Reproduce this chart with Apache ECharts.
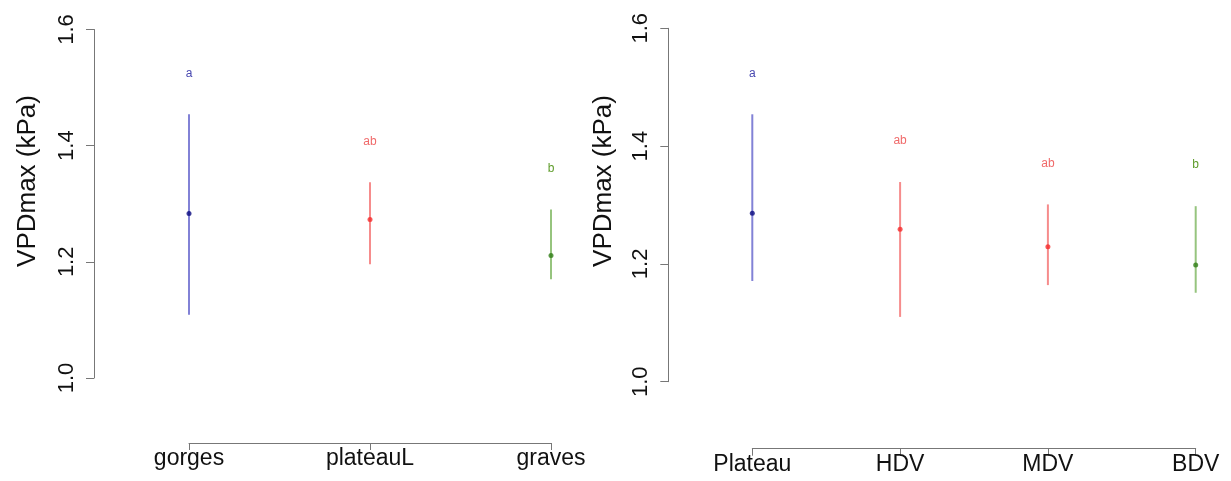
<!DOCTYPE html>
<html>
<head>
<meta charset="utf-8">
<script src="https://cdn.jsdelivr.net/npm/echarts@6/dist/echarts.min.js"></script>
<style>
html,body{margin:0;padding:0;background:#fff;}
#chart{width:1231px;height:481px;}
</style>
</head>
<body>
<div id="chart"></div>
<script>
// ---- data ----
const catsL = ['gorges', 'plateauL', 'graves'];
const meanL = [1.283, 1.273, 1.211];
const loL   = [1.109, 1.196, 1.170];
const hiL   = [1.454, 1.337, 1.290];
const letL  = ['a', 'ab', 'b'];

const catsR = ['Plateau', 'HDV', 'MDV', 'BDV'];
const meanR = [1.286, 1.259, 1.229, 1.198];
const loR   = [1.171, 1.110, 1.164, 1.151];
const hiR   = [1.454, 1.339, 1.301, 1.298];
const letR  = ['a', 'ab', 'ab', 'b'];

const yMin = 1.0, yMax = 1.6, yStep = 0.2;
const yTitle = 'VPDmax (kPa)';

// ---- styles ----
const lineCol = {a: '#8282d6', ab: '#f68c8c', b: '#96c47e'};
const dotCol  = {a: '#0a0a80', ab: '#f52a2a', b: '#2f7d15'};
const letCol  = {a: '#4848b0', ab: '#f06a6a', b: '#5e9c2a'};
const axisCol = '#777777';
const FONT = 'Liberation Sans, Arial, sans-serif';

const chart = echarts.init(document.getElementById('chart'), null, {renderer: 'canvas'});

function makeAxes(gi, cats, yOffset, xOffset) {
  const x = {
    type: 'value', gridIndex: gi, min: 1, max: cats.length, interval: 1,
    offset: xOffset,
    splitLine: {show: false},
    axisLine: {show: true, lineStyle: {color: axisCol, width: 1}},
    axisTick: {show: true, length: 7, lineStyle: {color: axisCol}},
    axisLabel: {show: true, margin: 4, color: '#111', fontFamily: FONT, fontSize: 23,
      formatter: v => cats[Math.round(v) - 1] || ''}
  };
  const y = {
    type: 'value', gridIndex: gi, min: yMin, max: yMax, interval: yStep,
    offset: yOffset,
    splitLine: {show: false},
    axisLine: {show: true, lineStyle: {color: axisCol, width: 1}},
    axisTick: {show: true, length: 8, lineStyle: {color: axisCol}},
    axisLabel: {show: true, rotate: 90, margin: 16, color: '#111', fontFamily: FONT, fontSize: 22,
      formatter: v => v.toFixed(1)}
  };
  return [x, y];
}

function makeSeries(gi, mean, lo, hi, lets) {
  const barData = mean.map((m, i) => [i + 1, lo[i], hi[i], lets[i]]);
  const dotData = mean.map((m, i) => ({value: [i + 1, m], itemStyle: {color: dotCol[lets[i]]}}));
  return [
    {
      type: 'custom', xAxisIndex: gi, yAxisIndex: gi,
      data: barData,
      renderItem: function (params, api) {
        const xv = api.value(0);
        const p1 = api.coord([xv, api.value(1)]);
        const p2 = api.coord([xv, api.value(2)]);
        const g = barData[params.dataIndex][3];
        return {
          type: 'group',
          children: [
            {type: 'line', shape: {x1: p1[0], y1: p1[1], x2: p2[0], y2: p2[1]},
              style: {stroke: lineCol[g], lineWidth: 2}},
            {type: 'text', x: p2[0], y: p2[1] - 41,
              style: {text: g, fill: letCol[g], font: '12px ' + FONT,
                align: 'center', verticalAlign: 'middle'}}
          ]
        };
      },
      z: 2
    },
    {
      type: 'scatter', xAxisIndex: gi, yAxisIndex: gi,
      symbol: 'circle', symbolSize: 5,
      data: dotData, z: 3
    }
  ];
}

const [xL, yL] = makeAxes(0, catsL, 95, 65);
const [xR, yR] = makeAxes(1, catsR, 84, 67);

chart.setOption({
  animation: false,
  backgroundColor: '#ffffff',
  grid: [
    {left: 189, width: 362, top: 29.5, height: 348.5},
    {left: 752.3, width: 443.4, top: 28.3, height: 353.4}
  ],
  xAxis: [xL, xR],
  yAxis: [yL, yR],
  series: [].concat(
    makeSeries(0, meanL, loL, hiL, letL),
    makeSeries(1, meanR, loR, hiR, letR)
  ),
  graphic: [
    {type: 'text', x: 28, y: 181, rotation: Math.PI / 2,
      style: {text: yTitle, fill: '#111', font: '26px ' + FONT, align: 'center', verticalAlign: 'middle'}},
    {type: 'text', x: 604, y: 181, rotation: Math.PI / 2,
      style: {text: yTitle, fill: '#111', font: '26px ' + FONT, align: 'center', verticalAlign: 'middle'}}
  ]
});
</script>
</body>
</html>
